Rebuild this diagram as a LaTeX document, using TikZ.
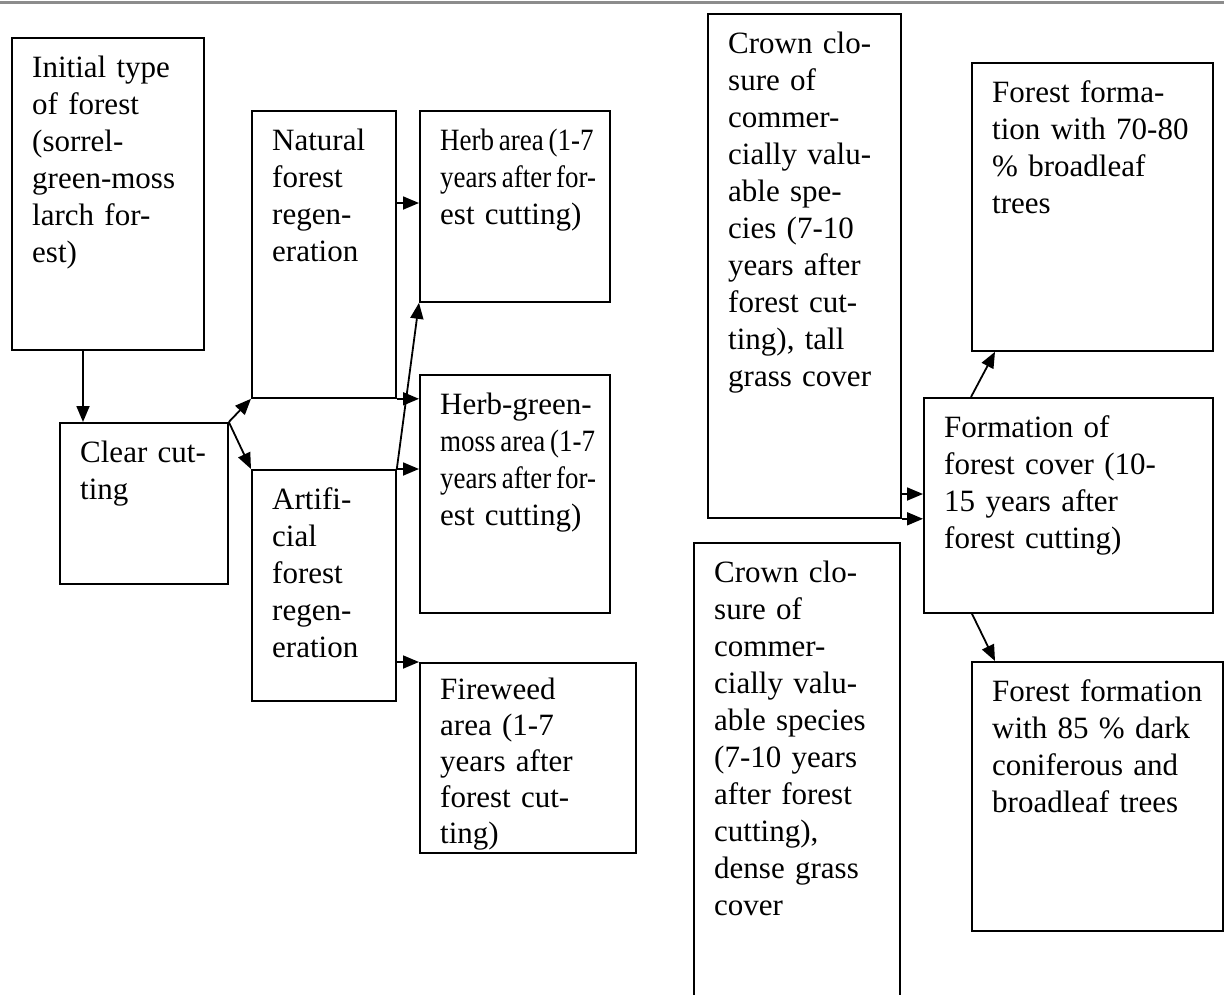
\documentclass[tikz,border=0pt]{standalone}
\usepackage{fontspec}
\usepackage{graphicx}
\setmainfont{Liberation Serif}
\usetikzlibrary{arrows.meta,calc}
\newcommand{\sqz}[1]{\scalebox{0.87}[1]{\spaceskip=5.5pt\relax #1}}
\begin{document}
\begin{tikzpicture}[x=1pt,y=-1pt,
  box/.style={draw,line width=1.8pt,anchor=north west,inner sep=0pt},
  txt/.style={anchor=base west,inner sep=0pt,align=left,text width=270pt,
    font=\fontsize{31}{37}\selectfont},
  arr/.style={line width=1.8pt,-{Triangle[length=16pt,width=13pt]}}]
\useasboundingbox (0,0) rectangle (1224,994);
\clip (0,0) rectangle (1224,994);
\fill[white] (0,0) rectangle (1224,994);
\coordinate (tl) at (0,2.5);
\coordinate (tr) at (1224,2.5);
\draw[line width=3pt,color=black!45] (tl) -- (tr);
% boxes
\node[box,minimum width=192pt,minimum height=312pt] (a) at (11,37) {};
\node[box,minimum width=168pt,minimum height=161pt] (cc) at (59,422) {};
\node[box,minimum width=144pt,minimum height=287pt] (nat) at (251,110) {};
\node[box,minimum width=144pt,minimum height=231pt] (art) at (251,469) {};
\node[box,minimum width=190pt,minimum height=191pt] (herb) at (419,110) {};
\node[box,minimum width=190pt,minimum height=238pt] (gm) at (419,374) {};
\node[box,minimum width=216pt,minimum height=190pt] (fw) at (419,662) {};
\node[box,minimum width=193pt,minimum height=504pt] (ct) at (707,13) {};
\node[box,minimum width=206pt,minimum height=470pt] (cb) at (693,542) {};
\node[box,minimum width=241pt,minimum height=288pt] (f70) at (971,62) {};
\node[box,minimum width=289pt,minimum height=215pt] (form) at (923,397) {};
\node[box,minimum width=251pt,minimum height=269pt] (f85) at (971,661) {};
% texts
\node[txt] (aT) at ($(a.north west)+(21,40)$) {Initial type\\of forest\\(sorrel-\\green-moss\\larch for-\\est)};
\node[txt] (ccT) at ($(cc.north west)+(21,40)$) {Clear cut-\\ting};
\node[txt] (natT) at ($(nat.north west)+(21,40)$) {Natural\\forest\\regen-\\eration};
\node[txt] (artT) at ($(art.north west)+(21,40)$) {Artifi-\\cial\\forest\\regen-\\eration};
\node[txt] (herbT) at ($(herb.north west)+(21,40)$) {\sqz{Herb area (1-7}\\\sqz{years after for-}\\est cutting)};
\node[txt] (gmT) at ($(gm.north west)+(21,40)$) {Herb-green-\\\sqz{moss area (1-7}\\\sqz{years after for-}\\est cutting)};
\node[txt,font=\fontsize{31}{36}\selectfont] (fwT) at ($(fw.north west)+(21,37)$) {Fireweed\\area (1-7\\years after\\forest cut-\\ting)};
\node[txt] (ctT) at ($(ct.north west)+(21,40)$) {Crown clo-\\sure of\\commer-\\cially valu-\\able spe-\\cies (7-10\\years after\\forest cut-\\ting), tall\\grass cover};
\node[txt] (cbT) at ($(cb.north west)+(21,40)$) {Crown clo-\\sure of\\commer-\\cially valu-\\able species\\(7-10 years\\after forest\\cutting),\\dense grass\\cover};
\node[txt] (f70T) at ($(f70.north west)+(21,40)$) {Forest forma-\\tion with 70-80\\\% broadleaf\\trees};
\node[txt] (formT) at ($(form.north west)+(21,40)$) {Formation of\\forest cover (10-\\15 years after\\forest cutting)};
\node[txt] (f85T) at ($(f85.north west)+(21,40)$) {Forest formation\\with 85 \% dark\\coniferous and\\broadleaf trees};
% connectors
\coordinate (aOut) at ($(a.south west)+(72,0)$);
\draw[arr] (aOut) -- (aOut |- cc.north);
\draw[arr] (cc.north east) -- (nat.south west);
\draw[arr] (cc.north east) -- (art.north west);
\draw[arr] (nat.south east) -- (nat.south east -| gm.west);
\draw[arr] (art.north east) -- (art.north east -| gm.west);
\draw[arr] (art.north east) -- (herb.south west);
\coordinate (hIn) at ($(herb.north west)+(0,93)$);
\draw[arr] (nat.east |- hIn) -- (hIn);
\draw[arr] (art.east |- fw.north west) -- (fw.north west);
\coordinate (fIn) at ($(form.north west)+(0,97)$);
\draw[arr] (ct.east |- fIn) -- (fIn);
\draw[arr] (ct.south east) -- (ct.south east -| form.west);
\draw[arr] ($(form.north west)+(48,0)$) -- ($(f70.south west)+(24,0)$);
\draw[arr] ($(form.south west)+(49,0)$) -- ($(f85.north west)+(24,0)$);
\end{tikzpicture}
\end{document}
